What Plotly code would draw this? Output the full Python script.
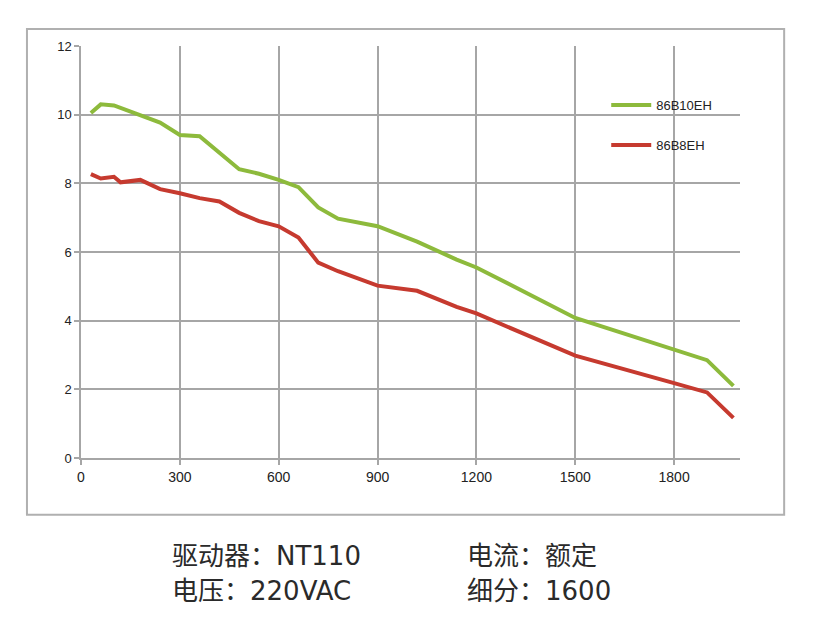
import plotly.graph_objects as go

# speed (rpm) vs torque (N·m)
speed_b10 = [30, 60, 100, 180, 240, 300, 360, 480, 540, 600, 660, 720, 780, 900,
             1020, 1140, 1200, 1500, 1800, 1900, 1980]
torque_b10 = [10.05, 10.30, 10.27, 9.97, 9.77, 9.41, 9.37, 8.41, 8.28, 8.10, 7.89,
              7.30, 6.97, 6.75, 6.30, 5.78, 5.55, 4.08, 3.16, 2.85, 2.10]

speed_b8 = [30, 60, 100, 120, 180, 240, 300, 360, 420, 480, 540, 600, 660, 720,
            780, 900, 1020, 1140, 1200, 1500, 1800, 1900, 1980]
torque_b8 = [8.27, 8.14, 8.19, 8.03, 8.10, 7.83, 7.71, 7.57, 7.47, 7.14, 6.90, 6.75,
             6.42, 5.69, 5.44, 5.02, 4.87, 4.40, 4.21, 2.98, 2.18, 1.91, 1.17]

series_names = ["86B10EH", "86B8EH"]
x_ticks = [0, 300, 600, 900, 1200, 1500, 1800]
y_ticks = [0, 2, 4, 6, 8, 10, 12]

notes_left = ["驱动器：NT110", "电压：220VAC"]
notes_right = ["电流：额定", "细分：1600"]

GREEN = "#8dba3c"
RED = "#c63a2f"
GRID = "#a6a6a6"

fig = go.Figure()
fig.add_trace(go.Scatter(x=speed_b10, y=torque_b10, mode="lines", name=series_names[0],
                         legendgroup="a", line=dict(color=GREEN, width=4)))
fig.add_trace(go.Scatter(x=speed_b8, y=torque_b8, mode="lines", name=series_names[1],
                         legendgroup="b", line=dict(color=RED, width=4)))

fig.update_xaxes(range=[0, 2000], tickvals=x_ticks, showgrid=True, gridcolor=GRID, gridwidth=1.5,
                 showline=True, linecolor=GRID, linewidth=1.5, zeroline=False,
                 ticks="outside", ticklen=5, tickcolor=GRID, tickwidth=1.5,
                 tickfont=dict(family="Liberation Sans", size=14, color="#222"))
fig.update_yaxes(range=[0, 12], tickvals=y_ticks, showgrid=True, gridcolor=GRID, gridwidth=1.5,
                 showline=True, linecolor=GRID, linewidth=1.5, zeroline=False,
                 ticks="outside", ticklen=5, tickcolor=GRID, tickwidth=1.5,
                 tickfont=dict(family="Liberation Sans", size=13, color="#222"))

# outer frame around the chart
fig.add_shape(type="rect", xref="paper", yref="paper", x0=-0.082, x1=1.067, y0=-0.138, y1=1.041,
              line=dict(color="#b0b0b0", width=2), fillcolor="rgba(0,0,0,0)", layer="below")

note_font = dict(family="DejaVu Sans, Noto Sans CJK SC", size=26, color="#2a2a2a")
for i, txt in enumerate(notes_left):
    fig.add_annotation(text=txt, xref="paper", yref="paper", x=(170 - 81) / 659, y=(458 - 556 - 35 * i) / 412,
                       xanchor="left", yanchor="middle", showarrow=False, font=note_font)
for i, txt in enumerate(notes_right):
    fig.add_annotation(text=txt, xref="paper", yref="paper", x=(465 - 81) / 659, y=(458 - 556 - 35 * i) / 412,
                       xanchor="left", yanchor="middle", showarrow=False, font=note_font)

# page body adds an 8px offset, so the figure is drawn 8px smaller
fig.update_layout(
    width=808, height=628,
    margin=dict(l=73, r=76, t=38, b=178),
    paper_bgcolor="white", plot_bgcolor="white",
    legend=dict(x=0.797, y=0.893, xanchor="left", yanchor="top", tracegroupgap=20, itemwidth=40,
                bgcolor="rgba(0,0,0,0)", font=dict(family="Liberation Sans", size=13, color="#222")),
)

fig.write_html("out.html")
